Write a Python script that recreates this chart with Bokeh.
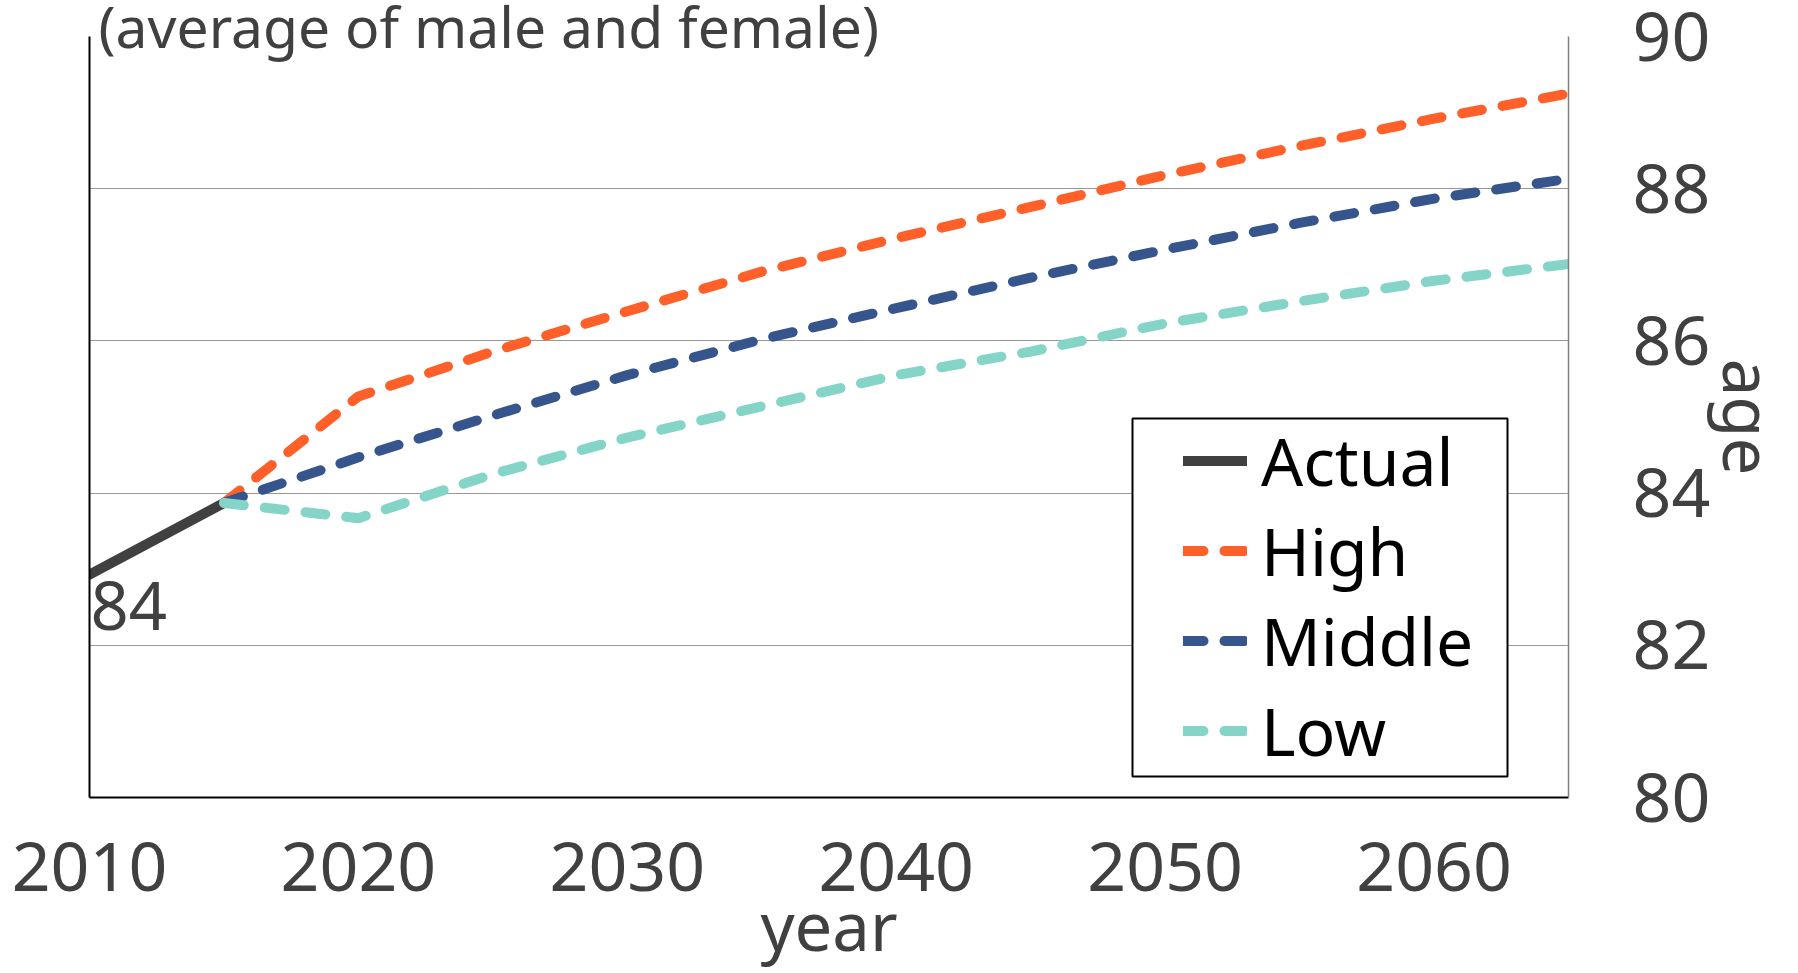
from bokeh.embed import file_html
from bokeh.models import (BoxAnnotation, FixedTicker, Label, Legend, LegendItem,
                          LinearAxis, Range1d)
from bokeh.plotting import figure
from bokeh.resources import INLINE

# ---- data: average life expectancy at birth (male and female) ----
years_actual = [2010, 2015]
life_actual = [82.93, 83.87]

years_proj = [2015, 2020, 2025, 2030, 2035, 2040, 2045, 2050, 2055, 2060, 2065]
life_high = [83.87, 85.27, 85.86, 86.39, 86.91, 87.35, 87.76, 88.18, 88.56, 88.92, 89.25]
life_middle = [83.87, 84.47, 85.02, 85.55, 86.02, 86.43, 86.83, 87.20, 87.55, 87.87, 88.13]
life_low = [83.87, 83.67, 84.25, 84.73, 85.14, 85.55, 85.86, 86.23, 86.52, 86.79, 87.01]

series_names = ["Actual", "High", "Middle", "Low"]
x_ticks = [2010, 2020, 2030, 2040, 2050, 2060]
y_ticks = [80, 82, 84, 86, 88, 90]

# ---- page geometry (pixels) ----
W, H = 1798, 973
FL, FR, FT, FB = 89, 1568, 36, 797          # plot frame edges
X0, X1, Y0, Y1 = 2010, 2065, 80, 90


def x_at(px):
    return X0 + (px - FL) * (X1 - X0) / (FR - FL)


def y_at(py):
    return Y0 + (FB - py) * (Y1 - Y0) / (FB - FT)


FONT = "Noto Sans"
TEXT_GREY = "#404040"
COLORS = {"Actual": "#404040", "High": "#FF5F28", "Middle": "#35558C", "Low": "#84D5C8"}
DASH = "20 21"
LW = 10

p = figure(width=W, height=H, output_backend="svg", toolbar_location=None,
           x_range=Range1d(X0, X1), y_range=Range1d(Y0, Y1),
           y_axis_location="right",
           min_border_left=FL, min_border_right=W - FR,
           min_border_top=FT, min_border_bottom=H - FB)
p.outline_line_color = None
p.background_fill_color = "white"
p.border_fill_color = "white"

# heading at the top edge
p.title.text = "(average of male and female)"
p.title.text_font = FONT
p.title.text_font_size = "57px"
p.title.text_font_style = "normal"
p.title.text_color = TEXT_GREY
p.title.align = "left"
p.title.vertical_align = "top"
p.title.offset = 9
p.title.standoff = -61

# bottom axis
p.xaxis.ticker = FixedTicker(ticks=x_ticks)
p.xaxis.axis_line_color = "black"
p.xaxis.axis_line_width = 2
p.xaxis.major_tick_line_color = None
p.xaxis.minor_tick_line_color = None
p.xaxis.major_label_standoff = 39
p.xaxis.major_label_text_font = FONT
p.xaxis.major_label_text_font_size = "68px"
p.xaxis.major_label_text_color = TEXT_GREY
p.xaxis.axis_label = "year"
p.xaxis.axis_label_standoff = -15
p.xaxis.axis_label_text_font = FONT
p.xaxis.axis_label_text_font_size = "67px"
p.xaxis.axis_label_text_font_style = "normal"
p.xaxis.axis_label_text_color = TEXT_GREY

# right axis
p.yaxis.ticker = FixedTicker(ticks=y_ticks)
p.yaxis.axis_line_color = "#808080"
p.yaxis.axis_line_width = 1.5
p.yaxis.major_tick_line_color = None
p.yaxis.minor_tick_line_color = None
p.yaxis.major_label_standoff = 58
p.yaxis.major_label_text_font = FONT
p.yaxis.major_label_text_font_size = "68px"
p.yaxis.major_label_text_color = TEXT_GREY
p.yaxis.axis_label = "age"
p.yaxis.axis_label_standoff = -10
p.yaxis.axis_label_text_font = FONT
p.yaxis.axis_label_text_font_size = "67px"
p.yaxis.axis_label_text_font_style = "normal"
p.yaxis.axis_label_text_color = TEXT_GREY

# plain left border
left_axis = LinearAxis(ticker=FixedTicker(ticks=[]), axis_line_color="black",
                       axis_line_width=2, major_tick_line_color=None,
                       minor_tick_line_color=None)
p.add_layout(left_axis, "left")

p.xgrid.visible = False
p.ygrid.grid_line_color = "#303030"
p.ygrid.grid_line_dash = "1 1"
p.ygrid.grid_line_width = 1

# ---- lines ----
r_act = p.line(years_actual, life_actual, line_color=COLORS["Actual"], line_width=LW,
               line_cap="round", line_join="round")
r_high = p.line(years_proj, life_high, line_color=COLORS["High"], line_width=LW,
                line_dash=DASH, line_cap="round", line_join="round")
r_mid = p.line(years_proj, life_middle, line_color=COLORS["Middle"], line_width=LW,
               line_dash=DASH, line_cap="round", line_join="round")
r_low = p.line(years_proj, life_low, line_color=COLORS["Low"], line_width=LW,
               line_dash=DASH, line_cap="round", line_join="round")

# ---- legend with its frame ----
legend_frame = BoxAnnotation(left=x_at(1132), right=x_at(1507), top=y_at(418), bottom=y_at(776),
                             fill_color="white", fill_alpha=1.0,
                             line_color="black", line_alpha=1.0, line_width=2)
p.add_layout(legend_frame)

legend = Legend(items=[LegendItem(label=n, renderers=[r]) for n, r in
                       zip(series_names, [r_act, r_high, r_mid, r_low])],
                location=(1183 - FL, FB - 775), orientation="vertical",
                padding=0, spacing=0, margin=0,
                glyph_width=64, glyph_height=89, label_height=89, label_standoff=14,
                label_text_font=FONT, label_text_font_size="66px",
                label_text_color="black",
                border_line_color=None, background_fill_alpha=0)
p.add_layout(legend)

# value note next to the first actual point
p.add_layout(Label(x=x_at(90), y=y_at(605), text="84",
                   text_font=FONT, text_font_size="67px", text_color=TEXT_GREY,
                   text_align="left", text_baseline="alphabetic"))

open("out.html", "w").write(file_html(p, INLINE))
